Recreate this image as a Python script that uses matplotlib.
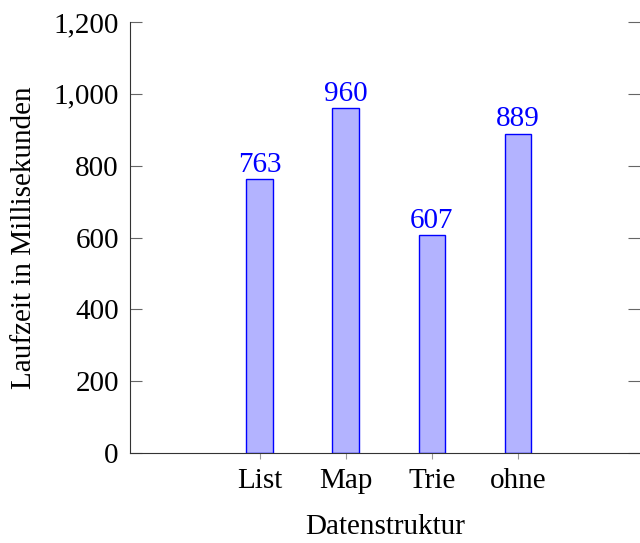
import matplotlib.pyplot as plt
from matplotlib.ticker import FuncFormatter

# Daten
strukturen = ['List', 'Map', 'Trie', 'ohne']
laufzeit = [763, 960, 607, 889]
y_ticks = [0, 200, 400, 600, 800, 1000, 1200]

plt.rcParams['font.family'] = ['Liberation Serif', 'DejaVu Serif']
plt.rcParams['font.size'] = 21

fig = plt.figure(figsize=(6.4, 5.43), dpi=100)
ax = fig.add_axes([0.203, 0.1657, 0.797, 0.7938])

pos = list(range(len(strukturen)))
bars = ax.bar(pos, laufzeit, width=0.31, color='#b3b3ff', edgecolor='blue', linewidth=1)
ax.bar_label(bars, labels=[str(v) for v in laufzeit], color='blue', padding=1, fontsize=21)

ax.set_xlim(-1.51, 4.42)
ax.set_ylim(0, 1200)
ax.set_xticks(pos)
ax.set_xticklabels(strukturen)
ax.set_yticks(y_ticks)
ax.yaxis.set_major_formatter(FuncFormatter(lambda v, p: f'{int(v):,}'))

ax.spines['top'].set_visible(False)
ax.spines['right'].set_visible(False)
ax.spines['left'].set_color('#333333')
ax.spines['bottom'].set_color('#333333')
ax.tick_params(axis='y', direction='in', length=8.5, color='#666666', right=True, pad=8)
ax.tick_params(axis='x', direction='out', length=4, color='#999999', pad=7)

ax.set_xlabel('Datenstruktur', labelpad=14)
ax.set_ylabel('Laufzeit in Millisekunden', labelpad=12)

fig.savefig('out.png', dpi=100)
